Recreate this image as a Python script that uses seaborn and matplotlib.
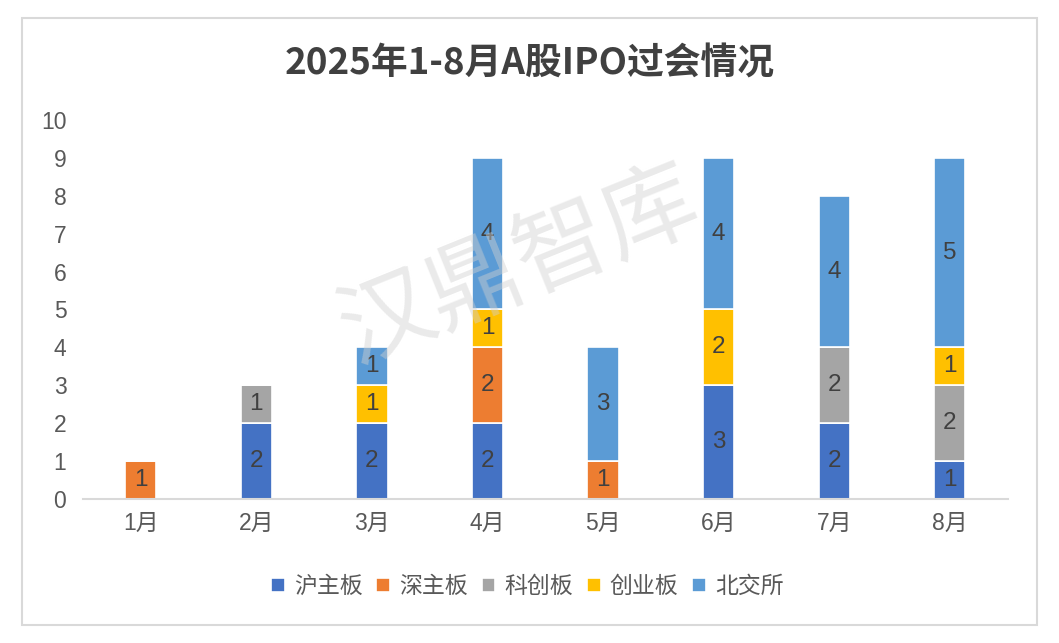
import matplotlib
matplotlib.use("Agg")
import matplotlib.pyplot as plt
import seaborn as sns
import numpy as np
import pandas as pd
from matplotlib.patches import Rectangle

months = ["1月", "2月", "3月", "4月", "5月", "6月", "7月", "8月"]
series_names = ["沪主板", "深主板", "科创板", "创业板", "北交所"]
hu_main = [0, 2, 2, 2, 0, 3, 2, 1]
shen_main = [1, 0, 0, 2, 1, 0, 0, 0]
kechuang = [0, 1, 0, 0, 0, 0, 2, 2]
chuangye = [0, 0, 1, 1, 0, 2, 0, 1]
beijiao = [0, 0, 1, 4, 3, 4, 4, 5]
colors = ["#4472C4", "#ED7D31", "#A5A5A5", "#FFC000", "#5B9BD5"]
title = "2025年1-8月A股IPO过会情况"
watermark = "汉鼎智库"

sns.set_theme(style="white")
plt.rcParams['font.family'] = ['Liberation Sans', 'Noto Sans CJK SC', 'DejaVu Sans']

fig = plt.figure(figsize=(10.59, 6.43), dpi=100)
ax = fig.add_axes([0.0784, 0.224, 0.873, 0.5895])

all_series = [hu_main, shen_main, kechuang, chuangye, beijiao]
bottom = np.zeros(len(months))
for name, vals, col in zip(series_names, all_series, colors):
    df = pd.DataFrame({"month": months, "value": vals})
    sns.barplot(data=df, x="month", y="value", color=col, width=0.27,
                bottom=bottom, ax=ax, edgecolor="white", linewidth=1.2,
                label=name, saturation=1)
    for i, v in enumerate(vals):
        if v > 0:
            ax.text(i, bottom[i] + v / 2, str(v), ha="center", va="center",
                    fontsize=17.5, color="#404040")
    bottom = bottom + np.array(vals)

handles, labels = ax.get_legend_handles_labels()
if ax.get_legend() is not None:
    ax.get_legend().remove()

ax.set_ylim(0, 10)
ax.set_xlim(-0.5, 7.5)
ax.set_yticks(range(0, 11))
ax.set_xlabel("")
ax.set_ylabel("")
for s in ["top", "right", "left"]:
    ax.spines[s].set_visible(False)
ax.spines["bottom"].set_color("#D9D9D9")
ax.spines["bottom"].set_linewidth(1.5)
ax.tick_params(axis="y", length=0, pad=12, labelsize=16.5, labelcolor="#595959")
ax.tick_params(axis="x", length=0, pad=9, labelsize=16.5, labelcolor="#595959")

fig.text(0.5, 0.9, title, ha="center", va="center", fontsize=26.5,
         fontweight="bold", color="#404040",
         family=['Noto Sans CJK SC', 'DejaVu Sans'])

leg = fig.legend(handles, labels, loc="center", bbox_to_anchor=(0.498, 0.088),
                 ncol=5, frameon=False, fontsize=16.5, handlelength=0.6,
                 handleheight=0.6, handletextpad=0.4, columnspacing=0.6)
for t in leg.get_texts():
    t.set_color("#595959")

fig.text(0.49, 0.585, watermark, ha="center", va="center", fontsize=68,
         color="#D0D0D0", alpha=0.45, rotation=22, zorder=10,
         family=['Noto Sans CJK SC'], fontweight="light")

fig.patches.append(Rectangle((22 / 1059, 1 - 625 / 643), (1037 - 22) / 1059,
                             (625 - 18) / 643, transform=fig.transFigure,
                             fill=False, edgecolor="#D9D9D9", linewidth=1.5))

fig.savefig("out.png", dpi=100)
